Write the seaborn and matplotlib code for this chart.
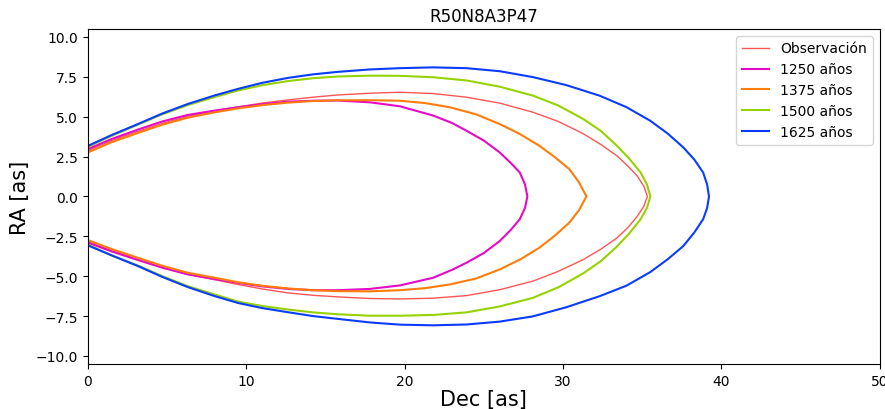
import pandas as pd
import matplotlib
matplotlib.use("Agg")
import matplotlib.pyplot as plt
import seaborn as sns

'''DATA (read off the reference picture)'''
# each curve: upper branch from Dec=0 to the tip, then lower branch back to Dec=0
obs_dec = [0, 1.5, 3.16, 4.7, 6.32, 8, 9.47, 11, 12.63, 14.2, 15.79, 17.8, 19.7, 21.8, 23.9,
           26.0, 28.1, 29.7, 31.3, 32.4, 33.4, 34.1, 34.68, 35.1, 35.33,
           35.1, 34.68, 34.1, 33.4, 32.4, 31.3, 29.7, 28.1, 26.0, 23.9, 21.8, 19.7,
           17.8, 15.79, 14.2, 12.63, 11, 9.47, 8, 6.32, 4.7, 3.16, 1.5, 0]
obs_ra = [2.87, 3.5, 4.08, 4.58, 5.02, 5.35, 5.61, 5.85, 6.05, 6.22, 6.36, 6.47, 6.53, 6.45, 6.22,
          5.85, 5.28, 4.7, 3.92, 3.25, 2.55, 1.9, 1.29, 0.65, 0,
          -0.63, -1.26, -1.95, -2.61, -3.3, -3.95, -4.7, -5.31, -5.85, -6.22, -6.38, -6.43,
          -6.40, -6.30, -6.2, -6.05, -5.8, -5.52, -5.22, -4.89, -4.45, -3.95, -3.4, -2.84]

m1250_dec = [0, 1.5, 3.16, 4.7, 6.32, 8, 9.47, 11, 12.63, 14.2, 15.79, 17.8, 19.7, 21.8, 23.0,
             23.9, 25.0, 26.0, 26.7, 27.27, 27.6, 27.75,
             27.6, 27.27, 26.7, 26.0, 25.0, 23.9, 23.0, 21.8, 19.7, 17.8, 15.79, 14.2,
             12.63, 11, 9.47, 8, 6.32, 4.7, 3.16, 1.5, 0]
m1250_ra = [2.97, 3.6, 4.19, 4.7, 5.11, 5.38, 5.59, 5.78, 5.94, 6.0, 6.01, 5.9, 5.65, 5.07, 4.6,
            4.12, 3.5, 2.76, 2.1, 1.50, 0.75, 0,
            -0.72, -1.43, -2.1, -2.80, -3.55, -4.16, -4.6, -5.10, -5.58, -5.8, -5.88, -5.88,
            -5.80, -5.64, -5.42, -5.18, -4.89, -4.47, -3.99, -3.45, -2.90]

m1375_dec = [0, 1.5, 3.16, 4.7, 6.32, 8, 9.47, 11, 12.63, 14.2, 15.79, 17.8, 19.7, 21.3, 22.85,
             24.5, 26.0, 27.3, 28.5, 29.5, 30.4, 31.0, 31.48,
             31.0, 30.4, 29.5, 28.5, 27.3, 26.0, 24.5, 22.85, 21.3, 19.7, 17.8, 15.79, 14.2,
             12.63, 11, 9.47, 8, 6.32, 4.7, 3.16, 1.5, 0]
m1375_ra = [2.76, 3.4, 3.98, 4.5, 4.94, 5.27, 5.52, 5.72, 5.88, 5.98, 6.03, 6.03, 6.0, 5.85, 5.59,
            5.15, 4.54, 3.9, 3.18, 2.45, 1.71, 0.9, 0,
            -0.88, -1.64, -2.45, -3.22, -3.95, -4.58, -5.15, -5.52, -5.75, -5.88, -5.95, -5.94, -5.88,
            -5.77, -5.6, -5.38, -5.1, -4.79, -4.35, -3.85, -3.3, -2.74]

m1500_dec = [0, 1.5, 3.16, 4.7, 6.32, 8, 9.47, 11, 12.63, 14.2, 15.79, 17.8, 19.7, 21.8, 23.9,
             26.0, 28.1, 29.7, 31.27, 32.4, 33.4, 34.2, 34.9, 35.3, 35.52,
             35.3, 34.9, 34.2, 33.4, 32.4, 31.27, 29.7, 28.1, 26.0, 23.9, 21.8, 19.7,
             17.8, 15.79, 14.2, 12.63, 11, 9.47, 8, 6.32, 4.7, 3.16, 1.5, 0]
m1500_ra = [3.11, 3.8, 4.50, 5.15, 5.73, 6.23, 6.64, 6.97, 7.23, 7.41, 7.52, 7.57, 7.56, 7.47, 7.27,
            6.88, 6.32, 5.7, 4.86, 4.1, 3.18, 2.35, 1.50, 0.75, 0,
            -0.73, -1.43, -2.3, -3.15, -4.05, -4.83, -5.7, -6.36, -6.9, -7.27, -7.43, -7.48,
            -7.48, -7.39, -7.27, -7.09, -6.87, -6.59, -6.15, -5.63, -5.0, -4.33, -3.7, -3.03]

m1625_dec = [0, 1.5, 3.16, 4.7, 6.32, 8, 9.47, 11, 12.63, 14.2, 15.79, 17.8, 19.7, 21.8, 23.9,
             26.0, 28.1, 30.2, 32.3, 34.0, 35.5, 36.6, 37.6, 38.3, 38.85, 39.1, 39.22,
             39.1, 38.85, 38.3, 37.6, 36.6, 35.5, 34.0, 32.3, 30.2, 28.1, 26.0, 23.9, 21.8,
             19.7, 17.8, 15.79, 14.2, 12.63, 11, 9.47, 8, 6.32, 4.7, 3.16, 1.5, 0]
m1625_ra = [3.17, 3.85, 4.54, 5.2, 5.80, 6.33, 6.74, 7.12, 7.43, 7.65, 7.81, 7.96, 8.04, 8.09, 8.04,
            7.85, 7.48, 6.98, 6.32, 5.6, 4.75, 3.95, 3.07, 2.3, 1.50, 0.75, 0,
            -0.73, -1.43, -2.25, -3.11, -3.95, -4.75, -5.6, -6.26, -6.95, -7.52, -7.85, -8.03, -8.08,
            -8.04, -7.9, -7.68, -7.5, -7.26, -7.0, -6.68, -6.25, -5.69, -5.05, -4.37, -3.7, -3.07]

labels = ["Observación", "1250 años", "1375 años", "1500 años", "1625 años"]
colors = ["#ff2a2a", "#e50ac8", "#ff7c0a", "#96d200", "#0a3cff"]

curves = [(obs_dec, obs_ra), (m1250_dec, m1250_ra), (m1375_dec, m1375_ra),
          (m1500_dec, m1500_ra), (m1625_dec, m1625_ra)]

'''PLOT'''
fig = plt.figure(figsize=(8.85, 4.1), dpi=100)
ax = fig.add_axes([0.0994, 0.11, 0.8946, 0.817])

for (dec, ra), lab, col in zip(curves, labels, colors):
    df = pd.DataFrame({"Dec": dec, "RA": ra})
    if lab == "Observación":
        lw, a = 1.0, 0.8
    else:
        lw, a = 1.5, 1.0
    sns.lineplot(data=df, x="Dec", y="RA", sort=False, estimator=None,
                 color=col, linewidth=lw, alpha=a, label=lab, ax=ax)

ax.set_xlim(0, 50)
ax.set_ylim(-10.5, 10.5)
ax.set_xlabel("Dec [as]", fontsize=15, labelpad=1)
ax.set_ylabel("RA [as]", fontsize=15)
ax.set_title("R50N8A3P47")
ax.legend(loc="upper right", fontsize=10)

plt.savefig("out.png", dpi=100)
